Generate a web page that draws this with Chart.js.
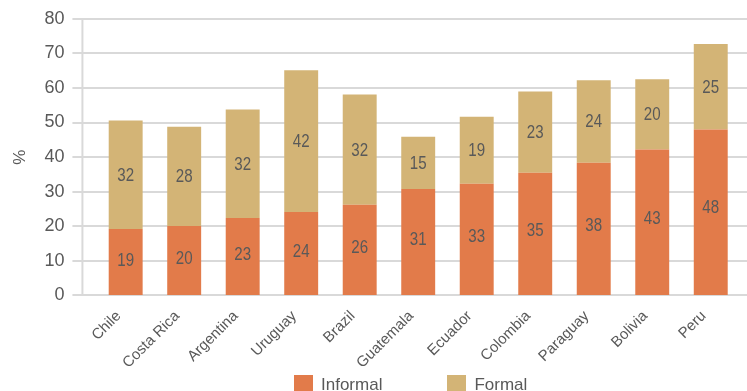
<!DOCTYPE html>
<html>
<head>
<meta charset="utf-8">
<script src="https://cdn.jsdelivr.net/npm/chart.js@4"></script>
<style>
  html, body { margin: 0; padding: 0; background: #fff; overflow: hidden; }
  #wrap { position: relative; width: 747px; height: 391px; overflow: hidden; }
  #leyenda {
    position: absolute; left: 294px; top: 375px;
    font: 17px "Liberation Sans", Arial, sans-serif; color: #595959;
    white-space: nowrap;
  }
  #leyenda span.item { display: inline-block; margin-right: 65px; }
  #leyenda span.caja {
    display: inline-block; width: 19px; height: 19px;
    vertical-align: top; margin-right: 8px;
  }
</style>
</head>
<body>
<div id="wrap">
  <canvas id="grafico" width="747" height="391"></canvas>
  <div id="leyenda"></div>
</div>
<script>
// categorias y valores (alturas, etiquetas como aparecen)
const paises = ['Chile', 'Costa Rica', 'Argentina', 'Uruguay', 'Brazil', 'Guatemala', 'Ecuador', 'Colombia', 'Paraguay', 'Bolivia', 'Peru'];
const informal = [19.2, 20.1, 22.4, 24.1, 26.2, 30.8, 32.3, 35.5, 38.4, 42.2, 48.0];
const formal = [31.4, 28.7, 31.4, 41.0, 31.9, 15.1, 19.4, 23.5, 23.8, 20.3, 24.7];
const etiquetasInformal = ['19', '20', '23', '24', '26', '31', '33', '35', '38', '43', '48'];
const etiquetasFormal = ['32', '28', '32', '42', '32', '15', '19', '23', '24', '20', '25'];
const ticksY = [0, 10, 20, 30, 40, 50, 60, 70, 80];

const gris = '#595959';
const colorRejilla = '#d9d9d9';
const colores = { Informal: '#E27B4A', Formal: '#D3B476' };

// rejilla horizontal y eje vertical, separados del primer grupo de barras
const rejillaPlugin = {
    id: 'rejilla',
    beforeDatasetsDraw(chart) {
        const ctx = chart.ctx;
        const area = chart.chartArea;
        const y = chart.scales.y;
        ctx.save();
        ctx.strokeStyle = colorRejilla;
        ctx.lineWidth = 2;
        ticksY.forEach(v => {
            const py = Math.round(y.getPixelForValue(v));
            ctx.beginPath();
            ctx.moveTo(area.left - 24, py);
            ctx.lineTo(chart.width, py);
            ctx.stroke();
        });
        ctx.beginPath();
        ctx.moveTo(area.left - 14, area.top);
        ctx.lineTo(area.left - 14, y.getPixelForValue(0));
        ctx.stroke();
        ctx.restore();
    }
};

// dibuja los numeros dentro de cada barra (letra estrecha)
const etiquetasPlugin = {
    id: 'etiquetas',
    afterDatasetsDraw(chart) {
        const ctx = chart.ctx;
        chart.data.datasets.forEach((ds, i) => {
            const meta = chart.getDatasetMeta(i);
            meta.data.forEach((bar, j) => {
                const y = bar.base + (bar.y - bar.base) * ds.posEtiqueta;
                ctx.save();
                ctx.translate(bar.x, y + 1);
                ctx.scale(0.84, 1);
                ctx.font = '18px "Liberation Sans", Arial, sans-serif';
                ctx.fillStyle = gris;
                ctx.textAlign = 'center';
                ctx.textBaseline = 'middle';
                ctx.fillText(ds.etiquetas[j], 0, 0);
                ctx.restore();
            });
        });
    }
};

const ctx = document.getElementById('grafico').getContext('2d');
const grafico = new Chart(ctx, {
    type: 'bar',
    data: {
        labels: paises,
        datasets: [
            {
                label: 'Informal',
                data: informal,
                etiquetas: etiquetasInformal,
                posEtiqueta: 0.53,
                backgroundColor: colores.Informal,
                barPercentage: 0.58,
                categoryPercentage: 1
            },
            {
                label: 'Formal',
                data: formal,
                etiquetas: etiquetasFormal,
                posEtiqueta: 0.5,
                backgroundColor: colores.Formal,
                barPercentage: 0.58,
                categoryPercentage: 1
            }
        ]
    },
    options: {
        responsive: false,
        animation: false,
        layout: { padding: { top: 18, right: 7, left: 4, bottom: 15 } },
        plugins: {
            legend: { display: false },
            tooltip: { enabled: false }
        },
        scales: {
            x: {
                stacked: true,
                grid: { display: false },
                border: { display: false },
                ticks: {
                    color: gris,
                    font: { family: '"Liberation Sans", Arial, sans-serif', size: 15 },
                    maxRotation: 45,
                    minRotation: 45,
                    padding: 4,
                    labelOffset: -7
                }
            },
            y: {
                stacked: true,
                min: 0,
                max: 80,
                afterBuildTicks(axis) {
                    axis.ticks = ticksY.map(v => ({ value: v }));
                },
                grid: { color: 'rgba(0,0,0,0)', tickLength: 24 },
                border: { display: false },
                ticks: {
                    color: gris,
                    font: { family: '"Liberation Sans", Arial, sans-serif', size: 18 },
                    padding: 8
                },
                title: {
                    display: true,
                    text: '%',
                    color: gris,
                    font: { family: '"Liberation Sans", Arial, sans-serif', size: 17 },
                    padding: 6
                }
            }
        }
    },
    plugins: [rejillaPlugin, etiquetasPlugin]
});

// leyenda en html, abajo (queda cortada como en el original)
const leyenda = document.getElementById('leyenda');
grafico.data.datasets.forEach(ds => {
    const item = document.createElement('span');
    item.className = 'item';
    const caja = document.createElement('span');
    caja.className = 'caja';
    caja.style.background = ds.backgroundColor;
    item.appendChild(caja);
    item.appendChild(document.createTextNode(ds.label));
    leyenda.appendChild(item);
});
</script>
</body>
</html>
